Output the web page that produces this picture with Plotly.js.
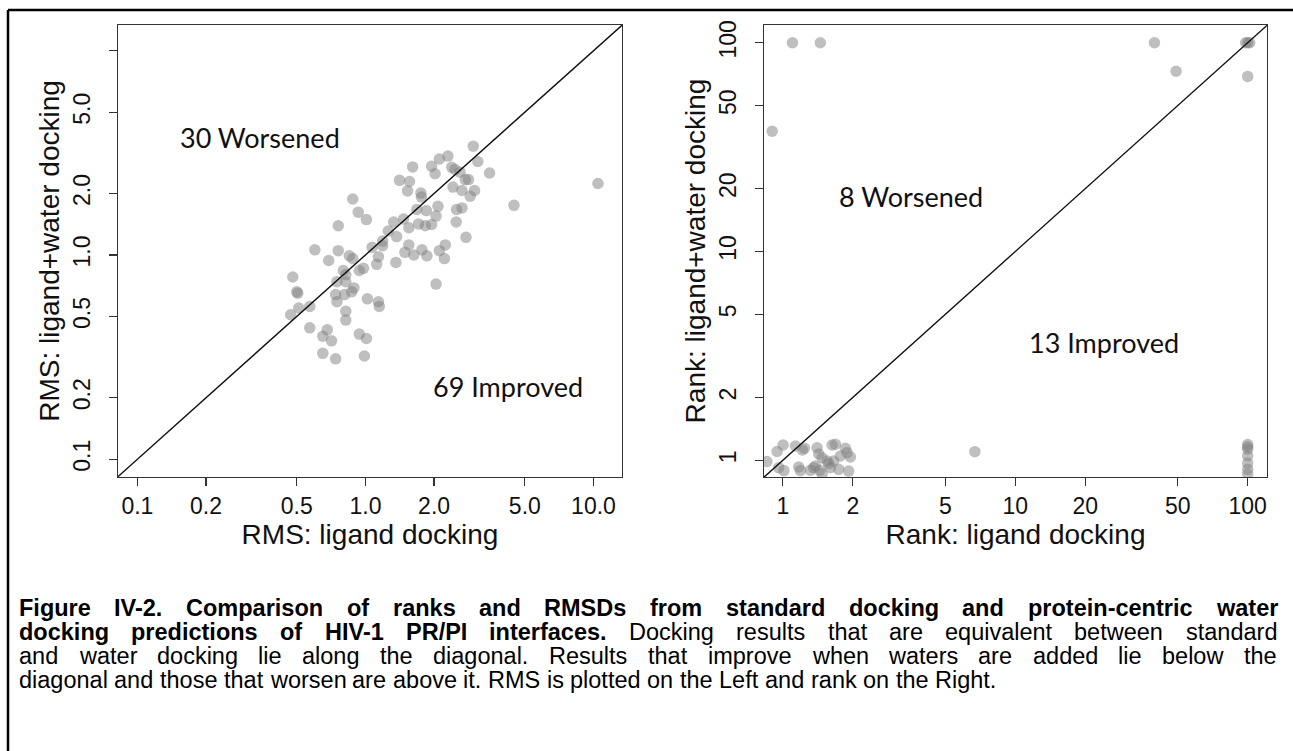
<!DOCTYPE html>
<html>
<head>
<meta charset="utf-8">
<script src="https://cdn.plot.ly/plotly-3.0.1.min.js"></script>
<style>
html,body{margin:0;padding:0;background:#fff;}
#chart{width:1293px;height:751px;}
</style>
</head>
<body>
<div id="chart"></div>
<script>
// ---- Data: RMS panel (left) ----
const rmsLigand = [2.97,3.11,2.30,2.11,1.95,1.61,2.02,2.39,2.47,3.50,2.60,2.74,2.83,2.42,2.65,3.01,2.88,1.41,1.56,1.53,1.75,1.76,0.88,0.93,1.01,1.68,1.85,2.08,2.04,2.51,2.65,2.50,2.76,1.33,1.47,1.55,1.71,1.83,1.95,0.76,0.60,0.76,0.69,0.85,0.88,1.07,1.19,1.19,1.26,1.37,1.55,1.49,1.63,1.77,1.86,2.11,2.24,2.22,2.04,1.14,1.12,1.36,0.80,0.82,0.94,0.98,0.82,0.75,0.89,0.87,0.81,0.75,0.74,0.48,0.50,0.505,0.47,0.51,0.57,1.02,1.14,1.15,0.82,0.82,0.57,0.68,0.65,0.71,0.94,1.01,0.65,0.74,0.99,10.46,4.48];
const rmsWater  = [3.41,2.87,3.05,2.95,2.72,2.70,2.50,2.69,2.62,2.52,2.54,2.34,2.34,2.15,2.07,2.07,1.94,2.32,2.29,2.06,2.01,1.92,1.88,1.62,1.49,1.67,1.65,1.73,1.55,1.67,1.70,1.45,1.22,1.45,1.50,1.36,1.42,1.39,1.41,1.39,1.06,1.05,0.94,0.99,0.96,1.09,1.17,1.11,1.31,1.23,1.12,1.03,1.00,1.06,0.99,1.05,1.12,0.96,0.72,0.98,0.90,0.92,0.84,0.80,0.84,0.86,0.74,0.74,0.69,0.66,0.64,0.59,0.64,0.78,0.66,0.65,0.51,0.55,0.56,0.61,0.59,0.56,0.53,0.48,0.44,0.43,0.40,0.38,0.41,0.39,0.33,0.31,0.32,2.24,1.75];

// ---- Data: Rank panel (right) ----
const rankLigand = [1.10,1.45,39.7,49.2,98,100,102,100,0.90,6.7,100,100,100,100,100,100,100,0.854,0.945,1.003,0.960,1.011,1.133,1.214,1.171,1.190,1.314,1.381,1.404,1.427,1.476,1.575,1.629,1.683,1.655,1.768,1.739,1.858,1.890,1.953,1.920,1.441,1.476,1.550,1.358,1.239,1.602];
const rankWater  = [100,100,100,73,100,100,100,69,37.7,1.10,1.19,1.16,1.13,1.05,0.97,0.905,0.86,0.987,1.102,1.184,0.922,0.893,1.171,1.121,0.929,0.893,0.895,0.939,1.149,1.072,1.029,0.963,1.184,1.193,0.992,1.049,0.905,1.142,1.088,1.037,0.888,0.895,0.862,0.992,0.922,1.142,0.922];

const rmsTicks = [0.1,0.2,0.5,1,2,5,10];
const rmsXTickText = ['0.1','0.2','0.5','1.0','2.0','5.0','10.0'];
const rmsYTickText = ['0.1','0.2','0.5','1.0','2.0','5.0',''];
const rankTicks = [1,2,5,10,20,50,100];
const rankTickText = ['1','2','5','10','20','50','100'];

const rmsLabels = ['30 Worsened','69 Improved'];
const rankLabels = ['8 Worsened','13 Improved'];

const captionLines = [
  [{t:'Figure IV-2. Comparison of ranks and RMSDs from standard docking and protein-centric water', b:true}],
  [{t:'docking predictions of HIV-1 PR/PI interfaces.', b:true},{t:'Docking results that are equivalent between standard', b:false}],
  [{t:'and water docking lie along the diagonal. Results that improve when waters are added lie below the', b:false}],
  [{t:'diagonal and those that worsen are above it. RMS is plotted on the Left and rank on the Right.', b:false}]
];

// ---- Figure geometry (pixels) ----
const W = 1293, H = 751;
const px = v => v / W;
const py = v => 1 - v / H;

const markerStyle = {size: 11.5, color: 'rgba(128,128,128,0.5)', line: {width: 0}};

const traces = [
  {x: rmsLigand, y: rmsWater, type: 'scatter', mode: 'markers', marker: markerStyle, xaxis: 'x', yaxis: 'y', hoverinfo: 'x+y'},
  {x: [0.01, 100], y: [0.01, 100], type: 'scatter', mode: 'lines', line: {color: '#111', width: 1.4}, xaxis: 'x', yaxis: 'y', hoverinfo: 'skip'},
  {x: rankLigand, y: rankWater, type: 'scatter', mode: 'markers', marker: markerStyle, xaxis: 'x2', yaxis: 'y2', hoverinfo: 'x+y'},
  {x: [0.1, 1000], y: [0.1, 1000], type: 'scatter', mode: 'lines', line: {color: '#111', width: 1.4}, xaxis: 'x2', yaxis: 'y2', hoverinfo: 'skip'}
];

const FONT = 'Liberation Sans, Arial, sans-serif';
const tickFont = {family: FONT, size: 23, color: '#111'};
const titleFont = {family: FONT, size: 28, color: '#111'};

function axisBase() {
  return {
    type: 'log', showgrid: false, zeroline: false,
    showline: true, mirror: true, linecolor: '#333', linewidth: 1.2,
    ticks: 'outside', ticklen: 8, tickwidth: 1.2, tickcolor: '#333',
    tickfont: tickFont, tickmode: 'array', fixedrange: true
  };
}

const yDomain = [(H - 477) / H, (H - 25) / H];

const layout = {
  width: W, height: H,
  margin: {l: 0, r: 0, t: 0, b: 0, pad: 0},
  paper_bgcolor: '#fff', plot_bgcolor: '#fff',
  showlegend: false,
  xaxis: Object.assign(axisBase(), {
    domain: [px(118), px(622)], range: [-1.085, 1.125], anchor: 'y',
    tickvals: rmsTicks, ticktext: rmsXTickText, ticklabelstandoff: 0,
    title: {text: 'RMS: ligand docking', font: titleFont, standoff: 4}
  }),
  yaxis: Object.assign(axisBase(), {
    domain: yDomain, range: [-1.087, 1.126], anchor: 'x',
    tickvals: rmsTicks, ticktext: rmsYTickText, tickangle: -90, ticklabelstandoff: 10,
    title: {text: 'RMS: ligand+water docking', font: titleFont, standoff: 0}
  }),
  xaxis2: Object.assign(axisBase(), {
    domain: [px(764), px(1267)], range: [-0.081, 2.083], anchor: 'y2',
    tickvals: rankTicks, ticktext: rankTickText, ticklabelstandoff: 0,
    title: {text: 'Rank: ligand docking', font: titleFont, standoff: 4}
  }),
  yaxis2: Object.assign(axisBase(), {
    domain: yDomain, range: [-0.08, 2.085], anchor: 'x2',
    tickvals: rankTicks, ticktext: rankTickText, tickangle: -90, ticklabelstandoff: 10,
    title: {text: 'Rank: ligand+water docking', font: titleFont, standoff: 0}
  }),
  shapes: [
    {type: 'line', xref: 'paper', yref: 'paper', x0: px(8), x1: px(8), y0: 0, y1: py(10), line: {color: '#000', width: 2.5}},
    {type: 'line', xref: 'paper', yref: 'paper', x0: px(8), x1: 1, y0: py(10), y1: py(10), line: {color: '#000', width: 2.5}}
  ],
  annotations: []
};

// Region labels
const labelFont = {family: 'Lato, Open Sans, sans-serif', size: 27, color: '#111'};
const labelPos = [[260, 137], [508, 386], [911, 197], [1104, 342]];
[...rmsLabels, ...rankLabels].forEach((t, i) => {
  layout.annotations.push({text: t, xref: 'paper', yref: 'paper', x: px(labelPos[i][0]), y: py(labelPos[i][1]),
    xanchor: 'center', yanchor: 'middle', showarrow: false, font: labelFont});
});

// Caption: justified, one annotation per word
const capSize = 23.5;
const capLeft = 17, capRight = 1275;
const capY = [608, 632, 656, 680];
const ctx = document.createElement('canvas').getContext('2d');
function measure(word, bold) {
  ctx.font = (bold ? 'bold ' : '') + capSize + 'px "Liberation Sans"';
  return ctx.measureText(word).width;
}
captionLines.forEach((segs, li) => {
  const words = [];
  segs.forEach(s => s.t.split(' ').forEach(w => words.push({w, b: s.b})));
  const widths = words.map(o => measure(o.w, o.b));
  const total = widths.reduce((a, b) => a + b, 0);
  const last = li === captionLines.length - 1;
  const gap = last ? measure(' ', false) : (capRight - capLeft - total) / (words.length - 1);
  let x = capLeft;
  words.forEach((o, i) => {
    layout.annotations.push({
      text: o.b ? '<b>' + o.w + '</b>' : o.w,
      xref: 'paper', yref: 'paper', x: px(x), y: py(capY[li]),
      xanchor: 'left', yanchor: 'middle', showarrow: false,
      font: {family: FONT, size: capSize, color: '#000'}
    });
    x += widths[i] + gap;
  });
});

Plotly.newPlot('chart', traces, layout, {displayModeBar: false, staticPlot: true});
</script>
</body>
</html>
